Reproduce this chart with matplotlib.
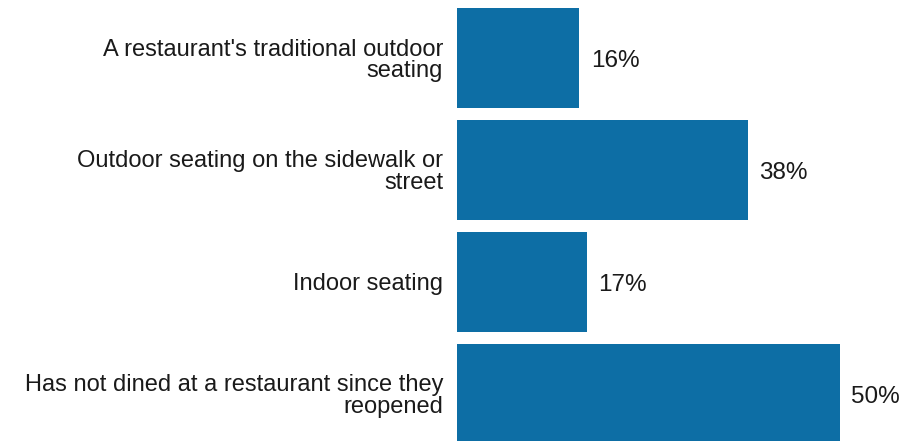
import matplotlib.pyplot as plt

categories = [
    "A restaurant's traditional outdoor\nseating",
    "Outdoor seating on the sidewalk or\nstreet",
    "Indoor seating",
    "Has not dined at a restaurant since they\nreopened",
]
values = [16, 38, 17, 50]

plt.rcParams['font.family'] = ['Liberation Sans', 'DejaVu Sans']

fig = plt.figure(figsize=(9, 4.41), dpi=100)
ax = fig.add_axes([457 / 900, 0, 443 / 900, 1])

pos = list(range(len(values)))
ax.barh(pos, values, height=0.893, color='#0d6ea5')

for p, v in zip(pos, values):
    ax.text(v + 1.5, p + 0.03, f"{v}%", va='center', ha='left', fontsize=17.5, color='#1a1a1a')

ax.set_xlim(0, 443 / 7.65)
ax.set_ylim(3.42, -0.518)
ax.set_yticks(pos)
ax.set_yticklabels(categories, fontsize=17, color='#1a1a1a', ha='right', linespacing=0.95)
ax.tick_params(axis='y', length=0, pad=10)
ax.set_xticks([])
for s in ax.spines.values():
    s.set_visible(False)

fig.savefig("out.png", dpi=100)
